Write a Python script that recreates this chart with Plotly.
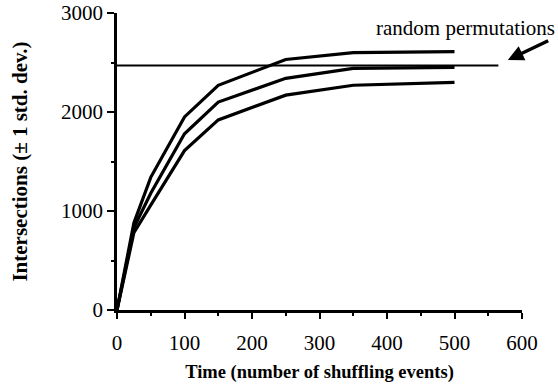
import plotly.graph_objects as go

# Data
time_events = [0, 25, 50, 100, 150, 250, 350, 500]
upper_sd = [0, 880, 1340, 1950, 2270, 2530, 2600, 2610]
mean_int = [0, 830, 1180, 1780, 2100, 2340, 2440, 2450]
lower_sd = [0, 780, 1060, 1610, 1920, 2170, 2270, 2300]

random_level = 2470
random_extent = [0, 565]

x_ticks = [0, 100, 200, 300, 400, 500, 600]
y_ticks = [0, 1000, 2000, 3000]

FONT = "Liberation Serif"

fig = go.Figure()
for ys in (upper_sd, mean_int, lower_sd):
    fig.add_trace(go.Scatter(x=time_events, y=ys, mode="lines",
                             line=dict(color="black", width=3.2),
                             showlegend=False, hoverinfo="skip"))

fig.add_trace(go.Scatter(x=random_extent, y=[random_level, random_level],
                         mode="lines", line=dict(color="black", width=2),
                         showlegend=False, hoverinfo="skip"))

fig.add_annotation(x=516, y=2850, xref="x", yref="y", text="random permutations",
                   showarrow=False, font=dict(family=FONT, size=21, color="black"))
fig.add_annotation(x=579, y=2525, xref="x", yref="y", ax=641, ay=2727,
                   axref="x", ayref="y", text="", showarrow=True,
                   arrowhead=2, arrowsize=0.9, arrowwidth=3.5, arrowcolor="black")

fig.update_layout(
    width=558, height=389,
    margin=dict(l=117, r=36, t=13, b=79),
    plot_bgcolor="white", paper_bgcolor="white",
    font=dict(family=FONT, color="black"),
)
fig.update_xaxes(range=[0, 600], tickvals=x_ticks, ticks="outside", ticklen=6,
                 tickwidth=2, tickcolor="black", showline=True, linecolor="black",
                 linewidth=2.5, showgrid=False, zeroline=False, automargin=False,
                 ticklabelstandoff=6,
                 tickfont=dict(family=FONT, size=21, color="black"),
                 minor=dict(ticks="outside", ticklen=3, tickwidth=2, tickcolor="black", dtick=50, showgrid=False),
                 title=dict(text="<b>Time (number of shuffling events)</b>", standoff=12,
                            font=dict(family=FONT, size=18.5, color="black")))
fig.update_yaxes(range=[0, 3000], tickvals=y_ticks, ticks="outside", ticklen=7,
                 tickwidth=2, tickcolor="black", showline=True, linecolor="black",
                 linewidth=2.5, showgrid=False, zeroline=False, automargin=False,
                 tickfont=dict(family=FONT, size=21, color="black"),
                 minor=dict(ticks="outside", ticklen=3, tickwidth=2, tickcolor="black", dtick=500, showgrid=False),
                 title=dict(text="<b>Intersections (± 1 std. dev.)</b>", standoff=28,
                            font=dict(family=FONT, size=21, color="black")))

fig.write_html("out.html")
